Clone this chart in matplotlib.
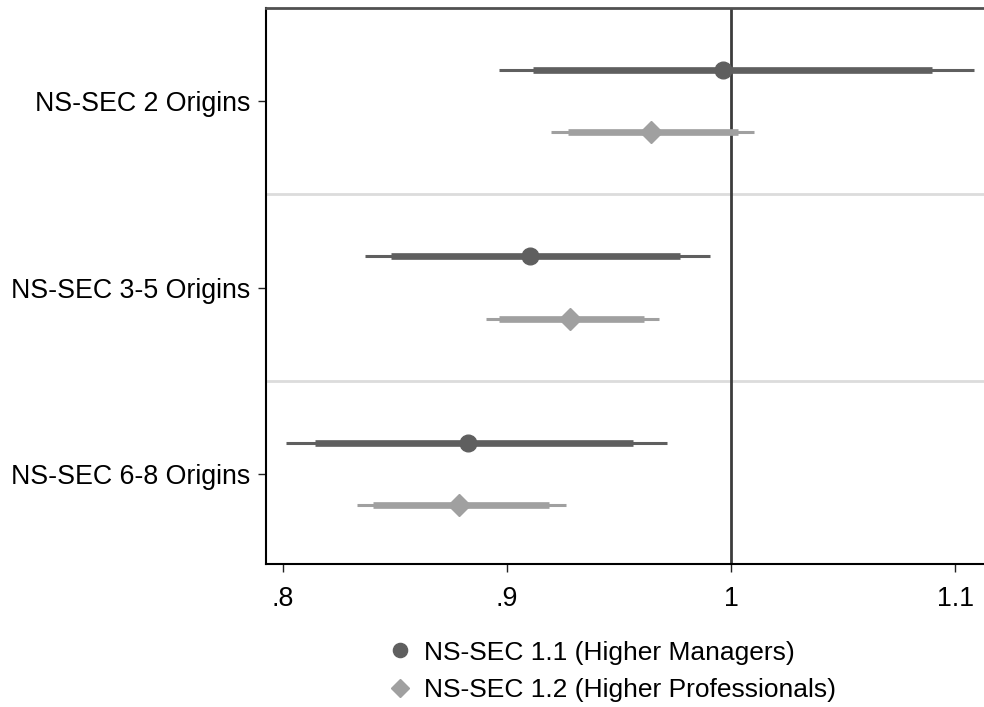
import matplotlib
matplotlib.use("Agg")
from matplotlib import pyplot as plt
from matplotlib.lines import Line2D

plt.rcParams['font.family'] = ['Liberation Sans', 'DejaVu Sans']

# origin categories, top to bottom
categories = ['NS-SEC 2 Origins', 'NS-SEC 3-5 Origins', 'NS-SEC 6-8 Origins']

# NS-SEC 1.1 (Higher Managers)
mgr_est = [0.9962, 0.9101, 0.8824]
mgr_lo95 = [0.8962, 0.8366, 0.8015]
mgr_hi95 = [1.1084, 0.9907, 0.9713]
mgr_lo90 = [0.9116, 0.8481, 0.8142]
mgr_hi90 = [1.0895, 0.9773, 0.9564]

# NS-SEC 1.2 (Higher Professionals)
pro_est = [0.9641, 0.9283, 0.8786]
pro_lo95 = [0.9198, 0.8906, 0.8331]
pro_hi95 = [1.0104, 0.9679, 0.9265]
pro_lo90 = [0.9271, 0.8966, 0.8403]
pro_hi90 = [1.0030, 0.9611, 0.9186]

series = [
    ('NS-SEC 1.1 (Higher Managers)', mgr_est, mgr_lo95, mgr_hi95, mgr_lo90, mgr_hi90, '#5f5f5f', 'o', 12, -0.167),
    ('NS-SEC 1.2 (Higher Professionals)', pro_est, pro_lo95, pro_hi95, pro_lo90, pro_hi90, '#a0a0a0', 'D', 11, 0.167),
]

fig = plt.figure(figsize=(9.84, 7.07), dpi=100)
ax = fig.add_axes([0.2703, 0.2023, 0.7297, 0.7864])

ypos = [1, 2, 3]
handles = []
for label, est, lo95, hi95, lo90, hi90, col, mk, ms, off in series:
    for i, y in enumerate(ypos):
        yy = y + off
        ax.plot([lo95[i], hi95[i]], [yy, yy], color=col, lw=2.2, solid_capstyle='butt', zorder=3)
        ax.plot([lo90[i], hi90[i]], [yy, yy], color=col, lw=4.8, solid_capstyle='butt', zorder=3)
    ax.plot(est, [y + off for y in ypos], linestyle='none', marker=mk, color=col,
            markersize=ms, zorder=4)
    handles.append(Line2D([], [], linestyle='none', marker=mk, color=col,
                          markersize=ms * 0.85, label=label))

# group separators and reference line
for s in [1.5, 2.5]:
    ax.axhline(s, color='#dcdcdc', lw=2, zorder=1)
ax.axvline(1.0, color='#3c3c3c', lw=2, zorder=2)

ax.set_xlim(0.7924, 1.1129)
ax.set_ylim(3.483, 0.5)
ax.set_yticks(ypos)
ax.set_yticklabels(categories)
ax.set_xticks([0.8, 0.9, 1.0, 1.1])
ax.set_xticklabels(['.8', '.9', '1', '1.1'])
ax.tick_params(axis='both', labelsize=19.3, length=6, width=1, color='#222222')
ax.tick_params(axis='y', pad=5)
ax.tick_params(axis='x', pad=10)

ax.spines['right'].set_visible(False)
ax.spines['top'].set_color('#505050')
ax.spines['top'].set_linewidth(2)
ax.spines['left'].set_linewidth(1.5)
ax.spines['bottom'].set_linewidth(1.5)

fig.legend(handles=handles, loc='upper left', bbox_to_anchor=(0.396, 0.094),
           frameon=False, fontsize=19, handlelength=0.8, handletextpad=0.5,
           labelspacing=0.5, borderpad=0, borderaxespad=0)

fig.savefig('out.png', dpi=100, facecolor='white')
